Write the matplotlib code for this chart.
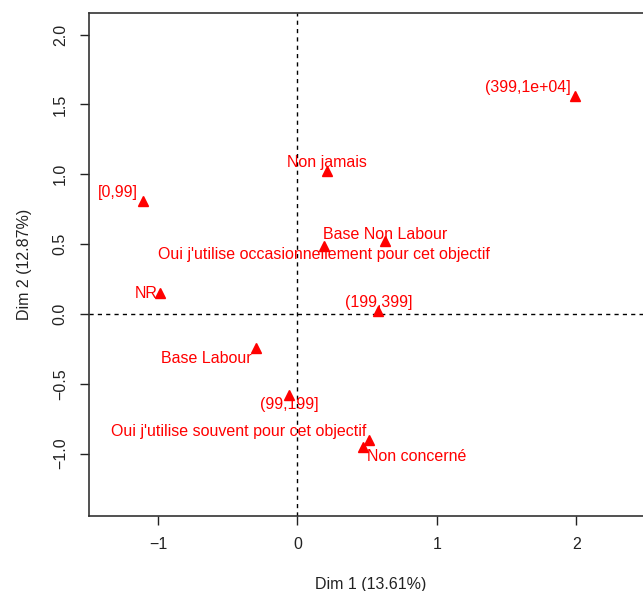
import matplotlib
matplotlib.use("Agg")
import matplotlib.pyplot as plt

plt.rcParams["font.family"] = ["Liberation Sans", "DejaVu Sans"]

# MCA category coordinates (Dim 1, Dim 2)
labels = [
    "(399,1e+04]", "Non jamais", "[0,99]", "Base Non Labour",
    "Oui j'utilise occasionnellement pour cet objectif", "NR", "(199,399]",
    "Base Labour", "(99,199]", "Oui j'utilise souvent pour cet objectif",
    "Non concerné",
]
dim1 = [1.99, 0.213, -1.109, 0.629, 0.194, -0.985, 0.581, -0.298, -0.057, 0.514, 0.469]
dim2 = [1.56, 1.027, 0.809, 0.525, 0.487, 0.148, 0.021, -0.241, -0.58, -0.902, -0.954]
x_ticks = [-1, 0, 1, 2]
y_ticks = [-1.0, -0.5, 0.0, 0.5, 1.0, 1.5, 2.0]

# label placement: (ha, dx, dy) offsets in points
placement = [
    ("right", -3, 6.5), ("center", 0, 6), ("right", -3.5, 6), ("center", 0, 4.5),
    ("center", 0, -6.5), ("right", -2, 0), ("center", 0, 6), ("right", -3, -8),
    ("center", 0, -6.5), ("right", -2, 6), ("left", 3, -7),
]

MINUS = "\u2212"

fig = plt.figure(figsize=(6.43, 5.91), dpi=100)
ax = fig.add_axes([0.139, 0.1274, 0.8735, 0.850])
ax.set_xlim(-1.492, 2.537)
ax.set_ylim(-1.444, 2.152)

ax.axhline(0, color="black", lw=1, ls=(0, (3, 3)), zorder=1)
ax.axvline(0, color="black", lw=1, ls=(0, (3, 3)), zorder=1)

ax.plot(dim1, dim2, ls="none", marker="^", color="red", ms=7, zorder=3)
for lab, x, y, (ha, dx, dy) in zip(labels, dim1, dim2, placement):
    ax.annotate(lab, (x, y), xytext=(dx, dy), textcoords="offset points",
                ha=ha, va="center", color="red", fontsize=11.5)

ax.set_xticks(x_ticks)
ax.set_xticklabels([str(t).replace("-", MINUS) for t in x_ticks])
ax.set_yticks(y_ticks)
ax.set_yticklabels([f"{t:.1f}".replace("-", MINUS) for t in y_ticks],
                   rotation=90, va="center")
ax.tick_params(length=6.5, width=1, pad=9, labelsize=11.5, colors="#222222")

for side in ["left", "bottom", "top", "right"]:
    ax.spines[side].set_color("#333333")
    ax.spines[side].set_linewidth(1.2)

ax.set_xlabel("Dim 1 (13.61%)", fontsize=11.5, color="#222222", labelpad=18)
ax.set_ylabel("Dim 2 (12.87%)", fontsize=11.5, color="#222222", labelpad=15)

fig.savefig("out.png", dpi=100)
